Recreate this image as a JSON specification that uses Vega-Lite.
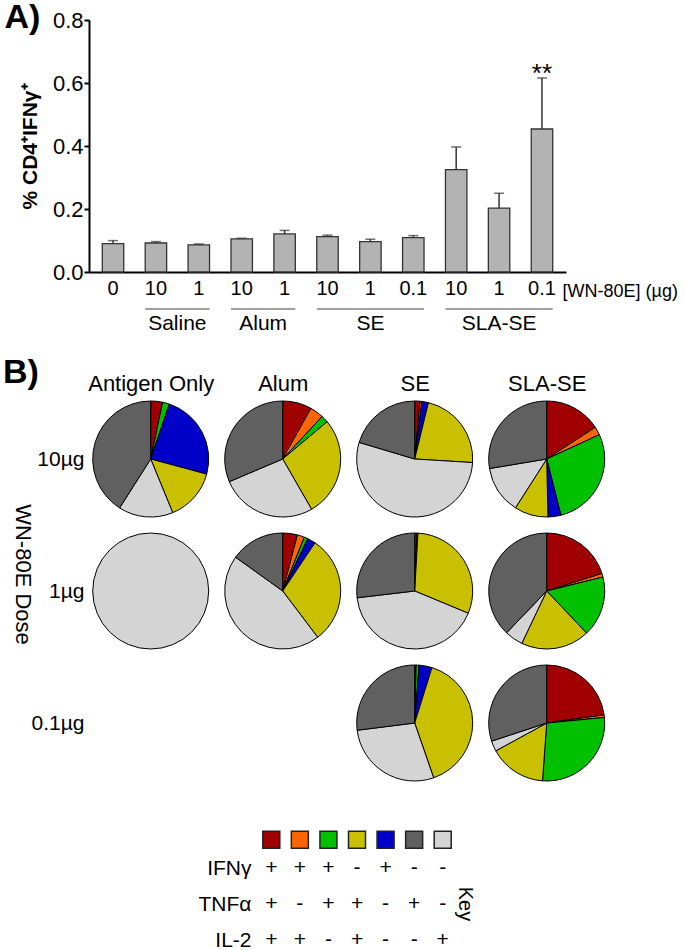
{
  "$schema": "https://vega.github.io/schema/vega-lite/v6.json",
  "padding": {"left": 3, "top": 1, "right": 2, "bottom": 0},
  "background": "white",
  "spacing": 22,
  "config": {
    "view": {"stroke": null},
    "font": "Liberation Sans",
    "axis": {"labelFont": "Liberation Sans", "titleFont": "Liberation Sans", "labelColor": "black", "titleColor": "black"},
    "text": {"font": "Liberation Sans", "color": "black"},
    "title": {"font": "Liberation Sans", "color": "black"}
  },
  "datasets": {
    "bars": [
      {"key": "a|0", "mean": 0.090, "upper": 0.0997, "sig": ""},
      {"key": "b|10", "mean": 0.092, "upper": 0.0965, "sig": ""},
      {"key": "c|1", "mean": 0.086, "upper": 0.089, "sig": ""},
      {"key": "d|10", "mean": 0.105, "upper": 0.107, "sig": ""},
      {"key": "e|1", "mean": 0.121, "upper": 0.132, "sig": ""},
      {"key": "f|10", "mean": 0.112, "upper": 0.117, "sig": ""},
      {"key": "g|1", "mean": 0.0965, "upper": 0.104, "sig": ""},
      {"key": "h|0.1", "mean": 0.109, "upper": 0.1155, "sig": ""},
      {"key": "i|10", "mean": 0.325, "upper": 0.397, "sig": ""},
      {"key": "j|1", "mean": 0.203, "upper": 0.250, "sig": ""},
      {"key": "k|0.1", "mean": 0.454, "upper": 0.616, "sig": "**"}
    ],
    "groups": [
      {"grp": "Saline", "first": "b|10", "last": "c|1", "n": 2},
      {"grp": "Alum", "first": "d|10", "last": "e|1", "n": 2},
      {"grp": "SE", "first": "f|10", "last": "h|0.1", "n": 3},
      {"grp": "SLA-SE", "first": "i|10", "last": "k|0.1", "n": 3}
    ],
    "pies": [
      {"adj": "Antigen Only", "dose": "10µg", "cat": "+++", "pct": 3.3},
      {"adj": "Antigen Only", "dose": "10µg", "cat": "++-", "pct": 1.9},
      {"adj": "Antigen Only", "dose": "10µg", "cat": "+--", "pct": 24.0},
      {"adj": "Antigen Only", "dose": "10µg", "cat": "-++", "pct": 14.6},
      {"adj": "Antigen Only", "dose": "10µg", "cat": "--+", "pct": 15.2},
      {"adj": "Antigen Only", "dose": "10µg", "cat": "-+-", "pct": 41.0},
      {"adj": "Alum", "dose": "10µg", "cat": "+++", "pct": 8.1},
      {"adj": "Alum", "dose": "10µg", "cat": "+-+", "pct": 3.8},
      {"adj": "Alum", "dose": "10µg", "cat": "++-", "pct": 2.0},
      {"adj": "Alum", "dose": "10µg", "cat": "-++", "pct": 27.8},
      {"adj": "Alum", "dose": "10µg", "cat": "--+", "pct": 26.9},
      {"adj": "Alum", "dose": "10µg", "cat": "-+-", "pct": 31.4},
      {"adj": "SE", "dose": "10µg", "cat": "+++", "pct": 1.5},
      {"adj": "SE", "dose": "10µg", "cat": "+-+", "pct": 0.5},
      {"adj": "SE", "dose": "10µg", "cat": "+--", "pct": 1.8},
      {"adj": "SE", "dose": "10µg", "cat": "-++", "pct": 22.2},
      {"adj": "SE", "dose": "10µg", "cat": "--+", "pct": 53.7},
      {"adj": "SE", "dose": "10µg", "cat": "-+-", "pct": 20.4},
      {"adj": "SLA-SE", "dose": "10µg", "cat": "+++", "pct": 15.8},
      {"adj": "SLA-SE", "dose": "10µg", "cat": "+-+", "pct": 2.3},
      {"adj": "SLA-SE", "dose": "10µg", "cat": "++-", "pct": 27.9},
      {"adj": "SLA-SE", "dose": "10µg", "cat": "+--", "pct": 3.6},
      {"adj": "SLA-SE", "dose": "10µg", "cat": "-++", "pct": 9.4},
      {"adj": "SLA-SE", "dose": "10µg", "cat": "--+", "pct": 13.3},
      {"adj": "SLA-SE", "dose": "10µg", "cat": "-+-", "pct": 27.6},
      {"adj": "Antigen Only", "dose": "1µg", "cat": "--+", "pct": 100},
      {"adj": "Alum", "dose": "1µg", "cat": "+++", "pct": 4.1},
      {"adj": "Alum", "dose": "1µg", "cat": "+-+", "pct": 2.0},
      {"adj": "Alum", "dose": "1µg", "cat": "++-", "pct": 1.0},
      {"adj": "Alum", "dose": "1µg", "cat": "+--", "pct": 2.3},
      {"adj": "Alum", "dose": "1µg", "cat": "-++", "pct": 30.3},
      {"adj": "Alum", "dose": "1µg", "cat": "--+", "pct": 45.2},
      {"adj": "Alum", "dose": "1µg", "cat": "-+-", "pct": 15.1},
      {"adj": "SE", "dose": "1µg", "cat": "+++", "pct": 0.6},
      {"adj": "SE", "dose": "1µg", "cat": "+-+", "pct": 0.3},
      {"adj": "SE", "dose": "1µg", "cat": "-++", "pct": 30.4},
      {"adj": "SE", "dose": "1µg", "cat": "--+", "pct": 41.9},
      {"adj": "SE", "dose": "1µg", "cat": "-+-", "pct": 26.9},
      {"adj": "SLA-SE", "dose": "1µg", "cat": "+++", "pct": 20.1},
      {"adj": "SLA-SE", "dose": "1µg", "cat": "+-+", "pct": 1.0},
      {"adj": "SLA-SE", "dose": "1µg", "cat": "++-", "pct": 16.8},
      {"adj": "SLA-SE", "dose": "1µg", "cat": "-++", "pct": 19.1},
      {"adj": "SLA-SE", "dose": "1µg", "cat": "--+", "pct": 5.1},
      {"adj": "SLA-SE", "dose": "1µg", "cat": "-+-", "pct": 37.8},
      {"adj": "SE", "dose": "0.1µg", "cat": "+++", "pct": 0.4},
      {"adj": "SE", "dose": "0.1µg", "cat": "++-", "pct": 0.8},
      {"adj": "SE", "dose": "0.1µg", "cat": "+--", "pct": 3.6},
      {"adj": "SE", "dose": "0.1µg", "cat": "-++", "pct": 39.9},
      {"adj": "SE", "dose": "0.1µg", "cat": "--+", "pct": 28.3},
      {"adj": "SE", "dose": "0.1µg", "cat": "-+-", "pct": 27.0},
      {"adj": "SLA-SE", "dose": "0.1µg", "cat": "+++", "pct": 22.8},
      {"adj": "SLA-SE", "dose": "0.1µg", "cat": "+-+", "pct": 0.7},
      {"adj": "SLA-SE", "dose": "0.1µg", "cat": "++-", "pct": 27.7},
      {"adj": "SLA-SE", "dose": "0.1µg", "cat": "-++", "pct": 15.9},
      {"adj": "SLA-SE", "dose": "0.1µg", "cat": "--+", "pct": 2.9},
      {"adj": "SLA-SE", "dose": "0.1µg", "cat": "-+-", "pct": 30.1}
    ],
    "key": [
      {"cat": "+++", "IFNγ": "+", "TNFα": "+", "IL-2": "+"},
      {"cat": "+-+", "IFNγ": "+", "TNFα": "-", "IL-2": "+"},
      {"cat": "++-", "IFNγ": "+", "TNFα": "+", "IL-2": "-"},
      {"cat": "-++", "IFNγ": "-", "TNFα": "+", "IL-2": "+"},
      {"cat": "+--", "IFNγ": "+", "TNFα": "-", "IL-2": "-"},
      {"cat": "-+-", "IFNγ": "-", "TNFα": "+", "IL-2": "-"},
      {"cat": "--+", "IFNγ": "-", "TNFα": "-", "IL-2": "+"}
    ],
    "keylabel": [{"t": "Key"}]
  },
  "vconcat": [
    {
      "width": 477,
      "height": 252,
      "title": {"text": "A)", "anchor": "start", "frame": "bounds", "fontSize": 34, "fontWeight": "bold", "baseline": "alphabetic", "offset": -53, "dx": -15},
      "layer": [
        {
          "data": {"name": "bars"},
          "mark": {"type": "bar", "fill": "#b3b3b3", "stroke": "#333333", "strokeWidth": 1.3},
          "encoding": {
            "x": {
              "field": "key", "type": "nominal",
              "scale": {"domain": ["a|0", "b|10", "c|1", "d|10", "e|1", "f|10", "g|1", "h|0.1", "i|10", "j|1", "k|0.1"], "paddingInner": 0.5, "paddingOuter": 0.31},
              "axis": {"labelExpr": "split(datum.label, '|')[1]", "labelAngle": 0, "labelFontSize": 20, "labelPadding": 6, "ticks": false, "domainColor": "black", "domainWidth": 2,
                       "title": "[WN-80E] (µg)", "titleX": 473, "titleY": 24, "titleAlign": "left", "titleBaseline": "alphabetic", "titleFontSize": 18, "titleFontWeight": "normal"}
            },
            "y": {
              "field": "mean", "type": "quantitative",
              "scale": {"domain": [0, 0.8], "nice": false},
              "axis": {"values": [0, 0.2, 0.4, 0.6, 0.8], "format": ".1f", "grid": false, "domainColor": "black", "domainWidth": 2, "tickColor": "black", "tickWidth": 2, "tickSize": 5,
                       "labelFontSize": 22, "labelPadding": 1, "title": "% CD4⁺IFNγ⁺", "titleFontSize": 21, "titleFontWeight": "bold", "titlePadding": 12}
            }
          }
        },
        {
          "data": {"name": "bars"},
          "mark": {"type": "rule", "color": "#333333", "strokeWidth": 1.5},
          "encoding": {"x": {"field": "key", "type": "nominal"}, "y": {"field": "mean", "type": "quantitative"}, "y2": {"field": "upper"}}
        },
        {
          "data": {"name": "bars"},
          "mark": {"type": "tick", "color": "#333333", "thickness": 1.5, "size": 10},
          "encoding": {"x": {"field": "key", "type": "nominal"}, "y": {"field": "upper", "type": "quantitative"}}
        },
        {
          "data": {"name": "bars"},
          "transform": [{"filter": "datum.sig != ''"}],
          "mark": {"type": "text", "fontSize": 26, "baseline": "alphabetic", "dy": 4},
          "encoding": {"x": {"field": "key", "type": "nominal"}, "y": {"field": "upper", "type": "quantitative"}, "text": {"field": "sig"}}
        },
        {
          "data": {"name": "groups"},
          "mark": {"type": "rule", "color": "#808080", "strokeWidth": 1.5},
          "encoding": {"x": {"field": "first", "type": "nominal", "bandPosition": 0}, "x2": {"field": "last", "bandPosition": 1}, "y": {"datum": -0.1175}}
        },
        {
          "data": {"name": "groups"},
          "transform": [{"filter": "datum.n == 2"}],
          "mark": {"type": "text", "fontSize": 21, "baseline": "alphabetic"},
          "encoding": {"x": {"field": "first", "type": "nominal", "bandPosition": 1.5}, "y": {"datum": -0.184}, "text": {"field": "grp"}}
        },
        {
          "data": {"name": "groups"},
          "transform": [{"filter": "datum.n == 3"}],
          "mark": {"type": "text", "fontSize": 21, "baseline": "alphabetic"},
          "encoding": {"x": {"field": "first", "type": "nominal", "bandPosition": 2.5}, "y": {"datum": -0.184}, "text": {"field": "grp"}}
        }
      ]
    },
    {
      "width": 524,
      "height": 413,
      "title": {"text": "B)", "anchor": "start", "frame": "bounds", "fontSize": 34, "fontWeight": "bold", "baseline": "alphabetic", "offset": -45, "dx": -8},
      "data": {"name": "pies"},
      "transform": [{"stack": "pct", "groupby": ["adj", "dose"], "offset": "normalize", "as": ["t0", "t1"]}],
      "mark": {"type": "arc", "radius": 58, "stroke": "#000000", "strokeWidth": 1},
      "encoding": {
        "x": {
          "field": "adj", "type": "nominal",
          "scale": {"domain": ["Antigen Only", "Alum", "SE", "SLA-SE"], "range": [-4.3, 523.7], "paddingInner": 0, "paddingOuter": 0},
          "axis": {"orient": "top", "domain": false, "ticks": false, "labelFontSize": 22, "labelPadding": -2, "labelAngle": 0, "title": null}
        },
        "y": {
          "field": "dose", "type": "nominal",
          "scale": {"domain": ["10µg", "1µg", "0.1µg"], "range": [0, 396], "paddingInner": 0, "paddingOuter": 0},
          "axis": {"domain": false, "ticks": false, "labelFontSize": 21, "labelPadding": 5, "title": "WN-80E Dose", "titleAngle": 90, "titleFontSize": 22, "titleFontWeight": "normal", "titleBaseline": "middle", "titleX": -67, "titleY": 181}
        },
        "theta": {"field": "t0", "type": "quantitative", "scale": {"domain": [0, 1]}},
        "theta2": {"field": "t1"},
        "color": {
          "field": "cat", "type": "nominal", "legend": null,
          "scale": {"domain": ["+++", "+-+", "++-", "-++", "+--", "-+-", "--+"], "range": ["#a00000", "#ff6600", "#00c000", "#c8c000", "#0000c8", "#606060", "#d4d4d4"]}
        }
      }
    },
    {
      "width": 380,
      "height": 108,
      "layer": [
        {
          "data": {"name": "key"},
          "mark": {"type": "square", "size": 289, "filled": true, "opacity": 1, "stroke": "#222222", "strokeWidth": 1.5, "yOffset": -28.2},
          "encoding": {
            "x": {"field": "cat", "type": "nominal", "scale": {"domain": ["+++", "+-+", "++-", "-++", "+--", "-+-", "--+"], "range": [168, 368], "paddingInner": 0, "paddingOuter": 0}, "axis": null},
            "y": {"datum": "IFNγ", "type": "nominal", "scale": {"type": "point", "domain": ["IFNγ", "TNFα", "IL-2"], "padding": 0.5},
                  "axis": {"offset": -164, "domain": false, "ticks": false, "labelPadding": 2, "labelFontSize": 21, "title": null}},
            "color": {"field": "cat", "type": "nominal", "legend": null,
                      "scale": {"domain": ["+++", "+-+", "++-", "-++", "+--", "-+-", "--+"], "range": ["#a00000", "#ff6600", "#00c000", "#c8c000", "#0000c8", "#606060", "#d4d4d4"]}}
          }
        },
        {
          "data": {"name": "key"},
          "transform": [{"fold": ["IFNγ", "TNFα", "IL-2"], "as": ["marker", "sign"]}],
          "mark": {"type": "text", "fontSize": 21, "baseline": "middle"},
          "encoding": {"x": {"field": "cat", "type": "nominal"}, "y": {"field": "marker", "type": "nominal"}, "text": {"field": "sign"}}
        },
        {
          "data": {"name": "keylabel"},
          "mark": {"type": "text", "fontSize": 20, "angle": 90, "baseline": "middle", "align": "center", "xOffset": 22},
          "encoding": {"x": {"datum": "--+", "type": "nominal"}, "y": {"datum": "TNFα", "type": "nominal"}, "text": {"field": "t"}}
        }
      ]
    }
  ]
}
